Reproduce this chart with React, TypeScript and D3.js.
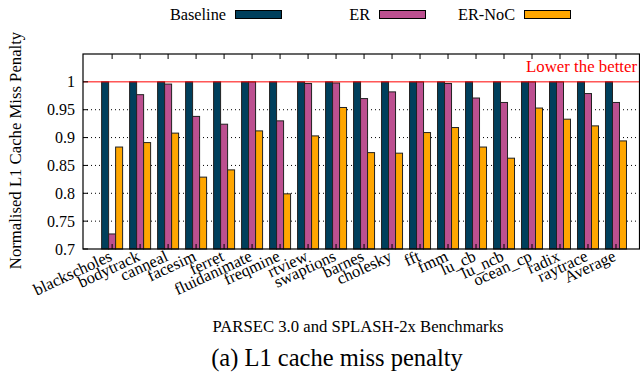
import React from "react";
import * as d3 from "d3";

const benchmarks = [
  "blackscholes", "bodytrack", "canneal", "facesim", "ferret", "fluidanimate",
  "freqmine", "rtview", "swaptions", "barnes", "cholesky", "fft", "fmm",
  "lu_cb", "lu_ncb", "ocean_cp", "radix", "raytrace", "Average",
];
const baseline = [1, 1, 1, 1, 1, 1, 1, 1, 1, 1, 1, 1, 1, 1, 1, 1, 1, 1, 1];
const er = [
  0.727, 0.977, 0.996, 0.938, 0.924, 1.0, 0.93, 0.997, 0.998, 0.97, 0.982,
  1.0, 0.997, 0.971, 0.963, 1.0, 1.0, 0.979, 0.963,
];
const erNoc = [
  0.883, 0.891, 0.908, 0.829, 0.842, 0.912, 0.799, 0.903, 0.954, 0.873, 0.872,
  0.909, 0.918, 0.883, 0.863, 0.953, 0.933, 0.921, 0.894,
];
const seriesNames = ["Baseline", "ER", "ER-NoC"];
const colors = ["#003f5c", "#bc5090", "#ffa600"];
const yTicks = [0.7, 0.75, 0.8, 0.85, 0.9, 0.95, 1];

const W = 640,
  H = 377;
const left = 83,
  right = 639.5,
  top = 54,
  bottom = 249;
const font = "Liberation Serif, Times New Roman, Times, serif";

export default function App() {
  const x = d3.scaleLinear().domain([-1.04, 18.84]).range([left, right]);
  const y = d3.scaleLinear().domain([0.7, 1.05]).range([bottom, top]);
  const sub = d3.scaleBand().domain(seriesNames).range([-10.5, 10.5]);
  const series = [baseline, er, erNoc];
  const fmt = (v: number) => (v === 1 ? "1" : d3.format(".2~f")(v));
  const ts = { fontFamily: font };

  return (
    <svg
      width={W}
      height={H}
      style={{ position: "absolute", left: 0, top: 0, background: "#fff", fontFamily: font }}
    >
      {/* grid */}
      {yTicks.slice(1, -1).map((t) => (
        <line
          key={t}
          x1={left}
          x2={right}
          y1={y(t)}
          y2={y(t)}
          stroke="#000"
          strokeWidth={1}
          strokeDasharray="1,3"
        />
      ))}
      {/* bars */}
      {benchmarks.map((b, i) => (
        <g key={b}>
          {series.map((s, j) => (
            <rect
              key={j}
              x={x(i) + sub(seriesNames[j])!}
              y={y(s[i])}
              width={sub.bandwidth()}
              height={y(0.7) - y(s[i])}
              fill={colors[j]}
              stroke="#222"
              strokeWidth={1}
            />
          ))}
        </g>
      ))}
      {/* reference line */}
      <line x1={left} x2={right} y1={y(1)} y2={y(1)} stroke="#ff0000" strokeWidth={1} />
      <text x={637} y={y(1) - 10} textAnchor="end" fill="#ff0000" fontSize={16.8} style={ts}>
        Lower the better
      </text>
      {/* frame */}
      <rect x={left} y={top} width={right - left} height={bottom - top} fill="none" stroke="#000" strokeWidth={1.2} />
      {/* x ticks */}
      {benchmarks.map((b, i) => (
        <g key={"t" + b}>
          <line x1={x(i)} x2={x(i)} y1={top} y2={top + 5} stroke="#000" />
          <line x1={x(i)} x2={x(i)} y1={bottom} y2={bottom - 5} stroke="#000" />
          <text
            transform={`translate(${x(i) + 1},${bottom + 11}) rotate(-25)`}
            textAnchor="end"
            fontSize={16.5}
            style={ts}
          >
            {b}
          </text>
        </g>
      ))}
      {/* y ticks */}
      {yTicks.map((t) => (
        <g key={"y" + t}>
          <line x1={left} x2={left + 5} y1={y(t)} y2={y(t)} stroke="#000" />
          <text x={75} y={y(t)} dy="0.35em" textAnchor="end" fontSize={16} style={ts}>
            {fmt(t)}
          </text>
        </g>
      ))}
      <text
        transform={`translate(21,${(top + bottom) / 2 - 1}) rotate(-90)`}
        textAnchor="middle"
        fontSize={16.7}
        style={ts}
      >
        Normalised L1 Cache Miss Penalty
      </text>
      {/* legend */}
      {seriesNames.map((n, j) => {
        const ends = [226, 370, 515];
        return (
          <g key={n}>
            <text x={ends[j]} y={20} textAnchor="end" fontSize={16.3} style={ts}>
              {n}
            </text>
            <rect x={ends[j] + 9.5} y={10.5} width={46} height={8} fill={colors[j]} stroke="#000" />
          </g>
        );
      })}
      <text x={358} y={332} textAnchor="middle" fontSize={16.7} style={ts}>
        PARSEC 3.0 and SPLASH-2x Benchmarks
      </text>
      <text x={337} y={366} textAnchor="middle" fontSize={24.5} style={ts}>
        (a) L1 cache miss penalty
      </text>
    </svg>
  );
}
